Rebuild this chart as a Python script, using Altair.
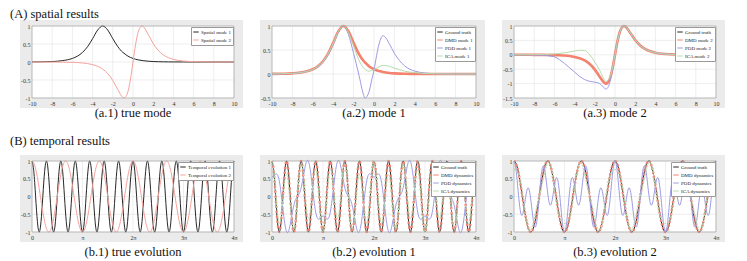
import altair as alt
import pandas as pd

FONT = "Liberation Serif"

# ---------------- spatial modes (x from -10 to 10) ----------------
x_space = [-10, -9, -8, -7, -6, -5.5, -5, -4.5, -4, -3.5, -3, -2.5, -2, -1.5, -1, -0.9, -0.5, -0.25, 0,
           0.25, 0.5, 0.9, 1, 1.5, 2, 2.5, 3, 3.5, 4, 5, 6, 7, 8, 10]
true_mode1 = [0.002, 0.005, 0.013, 0.037, 0.099, 0.163, 0.266, 0.425, 0.648, 0.887, 1.0, 0.887, 0.648, 0.425,
              0.266, 0.245, 0.163, 0.127, 0.099, 0.077, 0.060, 0.040, 0.037, 0.022, 0.013, 0.008, 0.005, 0.003,
              0.002, 0.001, 0, 0, 0, 0]
true_mode2 = [0, 0, -0.001, -0.004, -0.010, -0.016, -0.027, -0.044, -0.073, -0.120, -0.197, -0.322, -0.513,
              -0.769, -0.987, -1.0, -0.820, -0.475, 0, 0.475, 0.820, 1.0, 0.987, 0.769, 0.513, 0.322, 0.197,
              0.120, 0.073, 0.027, 0.010, 0.004, 0.001, 0]
pod_mode1 = [0.002, 0.005, 0.013, 0.036, 0.095, 0.155, 0.25, 0.40, 0.62, 0.86, 1.0, 0.82, 0.43, 0.0, -0.45,
             -0.5, -0.38, -0.15, 0.08, 0.38, 0.63, 0.8, 0.79, 0.63, 0.43, 0.28, 0.17, 0.1, 0.06, 0.02, 0.008,
             0.003, 0.001, 0]
ica_mode1 = [0.002, 0.005, 0.013, 0.036, 0.097, 0.16, 0.26, 0.42, 0.64, 0.88, 1.0, 0.86, 0.58, 0.3, 0.12, 0.1,
             0.06, 0.07, 0.09, 0.12, 0.15, 0.18, 0.18, 0.16, 0.12, 0.09, 0.06, 0.04, 0.03, 0.01, 0.004, 0.001,
             0, 0]
pod_mode2 = [0, -0.002, -0.006, -0.02, -0.07, -0.17, -0.3, -0.45, -0.6, -0.75, -0.86, -0.92, -0.95, -1.0,
             -1.17, -1.19, -0.95, -0.5, 0, 0.475, 0.820, 1.0, 0.987, 0.769, 0.513, 0.322, 0.197, 0.120, 0.073,
             0.027, 0.010, 0.004, 0.001, 0]
ica_mode2 = [0, 0.002, 0.006, 0.015, 0.03, 0.05, 0.07, 0.1, 0.13, 0.16, 0.15, 0.0, -0.25, -0.55, -0.9, -0.93,
             -0.78, -0.46, 0, 0.475, 0.820, 1.0, 0.987, 0.769, 0.513, 0.322, 0.197, 0.120, 0.073, 0.027, 0.010,
             0.004, 0.001, 0]

# ---------------- temporal dynamics (t from 0 to 4*pi, one sample every pi/28) ----------------
t_steps = list(range(113))
true_dyn1 = [1, 0.707, 0, -0.707, -1, -0.707, 0, 0.707, 1, 0.707, 0, -0.707, -1, -0.707, 0, 0.707,
             1, 0.707, 0, -0.707, -1, -0.707, 0, 0.707, 1, 0.707, 0, -0.707, -1, -0.707, 0, 0.707,
             1, 0.707, 0, -0.707, -1, -0.707, 0, 0.707, 1, 0.707, 0, -0.707, -1, -0.707, 0, 0.707,
             1, 0.707, 0, -0.707, -1, -0.707, 0, 0.707, 1, 0.707, 0, -0.707, -1, -0.707, 0, 0.707,
             1, 0.707, 0, -0.707, -1, -0.707, 0, 0.707, 1, 0.707, 0, -0.707, -1, -0.707, 0, 0.707,
             1, 0.707, 0, -0.707, -1, -0.707, 0, 0.707, 1, 0.707, 0, -0.707, -1, -0.707, 0, 0.707,
             1, 0.707, 0, -0.707, -1, -0.707, 0, 0.707, 1, 0.707, 0, -0.707, -1, -0.707, 0, 0.707, 1]
true_dyn2 = [1, 0.944, 0.782, 0.532, 0.223, -0.112, -0.434, -0.707, -0.901, -0.994, -0.975, -0.847, -0.623,
             -0.330, 0, 0.330, 0.623, 0.847, 0.975, 0.994, 0.901, 0.707, 0.434, 0.112, -0.223, -0.532, -0.782,
             -0.944, -1,
             -0.944, -0.782, -0.532, -0.223, 0.112, 0.434, 0.707, 0.901, 0.994, 0.975, 0.847, 0.623, 0.330, 0,
             -0.330, -0.623, -0.847, -0.975, -0.994, -0.901, -0.707, -0.434, -0.112, 0.223, 0.532, 0.782, 0.944, 1,
             0.944, 0.782, 0.532, 0.223, -0.112, -0.434, -0.707, -0.901, -0.994, -0.975, -0.847, -0.623,
             -0.330, 0, 0.330, 0.623, 0.847, 0.975, 0.994, 0.901, 0.707, 0.434, 0.112, -0.223, -0.532, -0.782,
             -0.944, -1,
             -0.944, -0.782, -0.532, -0.223, 0.112, 0.434, 0.707, 0.901, 0.994, 0.975, 0.847, 0.623, 0.330, 0,
             -0.330, -0.623, -0.847, -0.975, -0.994, -0.901, -0.707, -0.434, -0.112, 0.223, 0.532, 0.782, 0.944, 1]
pod_dyn1 = [0.55, 0.581, 0.633, 0.615, 0.441, 0.093, -0.352, -0.757, -0.99, -0.989, -0.79, -0.502, -0.245,
            -0.083, 0, 0.083, 0.245, 0.502, 0.79, 0.989, 0.99, 0.757, 0.352, -0.093, -0.441, -0.615, -0.633,
            -0.581, -0.55,
            -0.581, -0.633, -0.615, -0.441, -0.093, 0.352, 0.757, 0.99, 0.989, 0.79, 0.502, 0.245, 0.083, 0,
            -0.083, -0.245, -0.502, -0.79, -0.989, -0.99, -0.757, -0.352, 0.093, 0.441, 0.615, 0.633, 0.581, 0.55,
            0.581, 0.633, 0.615, 0.441, 0.093, -0.352, -0.757, -0.99, -0.989, -0.79, -0.502, -0.245,
            -0.083, 0, 0.083, 0.245, 0.502, 0.79, 0.989, 0.99, 0.757, 0.352, -0.093, -0.441, -0.615, -0.633,
            -0.581, -0.55,
            -0.581, -0.633, -0.615, -0.441, -0.093, 0.352, 0.757, 0.99, 0.989, 0.79, 0.502, 0.245, 0.083, 0,
            -0.083, -0.245, -0.502, -0.79, -0.989, -0.99, -0.757, -0.352, 0.093, 0.441, 0.615, 0.633, 0.581, 0.55]
ica_dyn1 = [1, 0.755, 0.156, -0.46, -0.755, -0.588, -0.087, 0.425, 0.62, 0.367, -0.195, -0.735, -0.925,
            -0.632, 0, 0.632, 0.925, 0.735, 0.195, -0.367, -0.62, -0.425, 0.087, 0.588, 0.755, 0.46, -0.156,
            -0.755, -1,
            -0.755, -0.156, 0.46, 0.755, 0.588, 0.087, -0.425, -0.62, -0.367, 0.195, 0.735, 0.925, 0.632, 0,
            -0.632, -0.925, -0.735, -0.195, 0.367, 0.62, 0.425, -0.087, -0.588, -0.755, -0.46, 0.156, 0.755, 1,
            0.755, 0.156, -0.46, -0.755, -0.588, -0.087, 0.425, 0.62, 0.367, -0.195, -0.735, -0.925,
            -0.632, 0, 0.632, 0.925, 0.735, 0.195, -0.367, -0.62, -0.425, 0.087, 0.588, 0.755, 0.46, -0.156,
            -0.755, -1,
            -0.755, -0.156, 0.46, 0.755, 0.588, 0.087, -0.425, -0.62, -0.367, 0.195, 0.735, 0.925, 0.632, 0,
            -0.632, -0.925, -0.735, -0.195, 0.367, 0.62, 0.425, -0.087, -0.588, -0.755, -0.46, 0.156, 0.755, 1]
pod_dyn2 = [1, 0.802, 0.313, -0.211, -0.511, -0.469, -0.174, 0.141, 0.24, 0.027, -0.39, -0.763, -0.849,
            -0.556, 0, 0.556, 0.849, 0.763, 0.39, -0.027, -0.24, -0.141, 0.174, 0.469, 0.511, 0.211, -0.313,
            -0.802, -1,
            -0.802, -0.313, 0.211, 0.511, 0.469, 0.174, -0.141, -0.24, -0.027, 0.39, 0.763, 0.849, 0.556, 0,
            -0.556, -0.849, -0.763, -0.39, 0.027, 0.24, 0.141, -0.174, -0.469, -0.511, -0.211, 0.313, 0.802, 1,
            0.802, 0.313, -0.211, -0.511, -0.469, -0.174, 0.141, 0.24, 0.027, -0.39, -0.763, -0.849,
            -0.556, 0, 0.556, 0.849, 0.763, 0.39, -0.027, -0.24, -0.141, 0.174, 0.469, 0.511, 0.211, -0.313,
            -0.802, -1,
            -0.802, -0.313, 0.211, 0.511, 0.469, 0.174, -0.141, -0.24, -0.027, 0.39, 0.763, 0.849, 0.556, 0,
            -0.556, -0.849, -0.763, -0.39, 0.027, 0.24, 0.141, -0.174, -0.469, -0.511, -0.211, 0.313, 0.802, 1]
ica_dyn2 = [0.76, 0.746, 0.688, 0.553, 0.316, -0.014, -0.382, -0.707, -0.913, -0.96, -0.858, -0.66, -0.428,
            -0.205, 0, 0.205, 0.428, 0.66, 0.858, 0.96, 0.913, 0.707, 0.382, 0.014, -0.316, -0.553, -0.688,
            -0.746, -0.76,
            -0.746, -0.688, -0.553, -0.316, 0.014, 0.382, 0.707, 0.913, 0.96, 0.858, 0.66, 0.428, 0.205, 0,
            -0.205, -0.428, -0.66, -0.858, -0.96, -0.913, -0.707, -0.382, -0.014, 0.316, 0.553, 0.688, 0.746, 0.76,
            0.746, 0.688, 0.553, 0.316, -0.014, -0.382, -0.707, -0.913, -0.96, -0.858, -0.66, -0.428,
            -0.205, 0, 0.205, 0.428, 0.66, 0.858, 0.96, 0.913, 0.707, 0.382, 0.014, -0.316, -0.553, -0.688,
            -0.746, -0.76,
            -0.746, -0.688, -0.553, -0.316, 0.014, 0.382, 0.707, 0.913, 0.96, 0.858, 0.66, 0.428, 0.205, 0,
            -0.205, -0.428, -0.66, -0.858, -0.96, -0.913, -0.707, -0.382, -0.014, 0.316, 0.553, 0.688, 0.746, 0.76]

# tick values / labels
x_space_ticks = [-10, -8, -6, -4, -2, 0, 2, 4, 6, 8, 10]
t_ticks = [0, 28, 56, 84, 112]
t_tick_labels = ["0", "π", "2π", "3π", "4π"]

C_TRUE = "#262626"
C_PINK = "#f5a39b"
C_DMD = "#f4826f"
C_POD = "#9d9be4"
C_ICA = "#b6dcab"

ONE = alt.Data(values=[{"a": 1}])


def panel(x, series, names, colors, widths, dashes, interp, xdom, xticks, xlabel_expr,
          ydom, yticks, w, h, caption, cap_dy, section=None, sec_dy=-16):
    xs = alt.Scale(domain=xdom, nice=False, zero=False)
    ys = alt.Scale(domain=ydom, nice=False, zero=False)
    ax_common = dict(title=None, grid=False, ticks=False, domain=False, labelFont=FONT,
                     labelFontSize=6, labelColor="#333333", zindex=1)
    xaxis = alt.Axis(values=xticks, labelExpr=xlabel_expr, labelPadding=2, labelFlush=False, **ax_common)
    yaxis = alt.Axis(values=yticks, labelExpr="'' + datum.value", labelPadding=2, **ax_common)
    layers = [
        alt.Chart(ONE).mark_rect(color="#ebebeb").encode(
            x=alt.value(-12), x2=alt.value(w + 9), y=alt.value(-6), y2=alt.value(h + 10)),
        alt.Chart(ONE).mark_rect(color="white").encode(
            x=alt.value(0), x2=alt.value(w), y=alt.value(0), y2=alt.value(h)),
        alt.Chart(pd.DataFrame({"v": xticks})).mark_rule(color="#e3e3e3", strokeWidth=0.6).encode(
            x=alt.X("v:Q", scale=xs, axis=xaxis)),
        alt.Chart(pd.DataFrame({"v": yticks})).mark_rule(color="#e3e3e3", strokeWidth=0.6).encode(
            y=alt.Y("v:Q", scale=ys, axis=yaxis)),
    ]
    legend = alt.Legend(orient="top-right", offset=1, title=None, labelFont=FONT, labelFontSize=5,
                        labelColor="#222222", symbolType="stroke", symbolSize=30, symbolStrokeWidth=1,
                        padding=1.5, rowPadding=1, fillColor="white", strokeColor="#9a9a9a",
                        labelOffset=1.5, labelLimit=300)
    for vals, name, wd, dash in zip(series, names, widths, dashes):
        df = pd.DataFrame({"x": x, "y": vals, "s": name})
        mk = dict(strokeWidth=wd, interpolate=interp)
        if dash:
            mk["strokeDash"] = dash
        layers.append(
            alt.Chart(df).mark_line(**mk).encode(
                x=alt.X("x:Q", scale=xs, axis=xaxis),
                y=alt.Y("y:Q", scale=ys, axis=yaxis),
                color=alt.Color("s:N", scale=alt.Scale(domain=names, range=colors), legend=legend),
            )
        )
    layers.append(alt.Chart(ONE).mark_rect(filled=False, stroke="#9a9a9a", strokeWidth=0.6).encode(
        x=alt.value(0), x2=alt.value(w), y=alt.value(0), y2=alt.value(h)))
    layers.append(alt.Chart(ONE).mark_text(font=FONT, fontSize=12.5, align="center", baseline="alphabetic",
                                           color="#111111").encode(
        x=alt.value(w / 2), y=alt.value(h + cap_dy), text=alt.value(caption)))
    if section:
        layers.append(alt.Chart(ONE).mark_text(font=FONT, fontSize=12.5, align="left", baseline="alphabetic",
                                               color="#111111").encode(
            x=alt.value(-22), y=alt.value(sec_dy), text=alt.value(section)))
    return alt.layer(*layers).properties(width=w, height=h)


sp_lab = "'' + datum.value"
t_lab = "datum.value == 0 ? '0' : datum.value == 28 ? 'π' : datum.value == 56 ? '2π' : datum.value == 84 ? '3π' : '4π'"

a1 = panel(x_space, [true_mode1, true_mode2], ["Spatial mode 1", "Spatial mode 2"], [C_TRUE, C_PINK],
           [1, 1], [None, None], "monotone", [-10, 10], x_space_ticks, sp_lab,
           [-1, 1], [-1, -0.5, 0, 0.5, 1], 202, 72, "(a.1) true mode", 19,
           section="(A) spatial results", sec_dy=-8)
a2 = panel(x_space, [true_mode1, true_mode1, pod_mode1, ica_mode1],
           ["Ground truth", "DMD mode 1", "POD mode 1", "ICA mode 1"], [C_TRUE, C_DMD, C_POD, C_ICA],
           [1, 2.6, 1, 1], [None, None, None, None], "monotone", [-10, 10], x_space_ticks, sp_lab,
           [-0.5, 1], [-0.5, 0, 0.5, 1], 204, 72, "(a.2) mode 1", 19)
a3 = panel(x_space, [true_mode2, true_mode2, pod_mode2, ica_mode2],
           ["Ground truth", "DMD mode 2", "POD mode 2", "ICA mode 2"], [C_TRUE, C_DMD, C_POD, C_ICA],
           [1, 2.6, 1, 1], [None, None, None, None], "monotone", [-10, 10], x_space_ticks, sp_lab,
           [-1.5, 1], [-1.5, -1, -0.5, 0, 0.5, 1], 202, 72, "(a.3) mode 2", 19)

b1 = panel(t_steps, [true_dyn1, true_dyn2], ["Temporal evolution 1", "Temporal evolution 2"], [C_TRUE, C_PINK],
           [1, 1], [None, None], "natural", [0, 112], t_ticks, t_lab,
           [-1, 1], [-1, -0.5, 0, 0.5, 1], 202, 71, "(b.1) true evolution", 24,
           section="(B) temporal results", sec_dy=-16)
b2 = panel(t_steps, [true_dyn1, true_dyn1, pod_dyn1, ica_dyn1],
           ["Ground truth", "DMD dynamics", "POD dynamics", "ICA dynamics"], [C_TRUE, C_DMD, C_POD, C_ICA],
           [1, 2.4, 1, 1], [None, [2, 3], None, [2, 1]], "natural", [0, 112], t_ticks, t_lab,
           [-1, 1], [-1, -0.5, 0, 0.5, 1], 204, 71, "(b.2) evolution 1", 24)
b3 = panel(t_steps, [true_dyn2, true_dyn2, pod_dyn2, ica_dyn2],
           ["Ground truth", "DMD dynamics", "POD dynamics", "ICA dynamics"], [C_TRUE, C_DMD, C_POD, C_ICA],
           [1, 2.4, 1, 1], [None, [2, 2], None, [2, 1]], "natural", [0, 112], t_ticks, t_lab,
           [-1, 1], [-1, -0.5, 0, 0.5, 1], 202, 71, "(b.3) evolution 2", 24)

chart = alt.concat(a1, a2, a3, b1, b2, b3, columns=3, spacing={"row": 63, "column": 38},
                   bounds="flush").resolve_scale(
    color="independent", x="independent", y="independent").resolve_legend(color="independent").properties(
    padding={"left": 2, "top": 0, "right": 0, "bottom": 0}, background="white"
).configure_view(stroke=None)

chart.save("out.html", embed_options={"renderer": "svg", "actions": False})
